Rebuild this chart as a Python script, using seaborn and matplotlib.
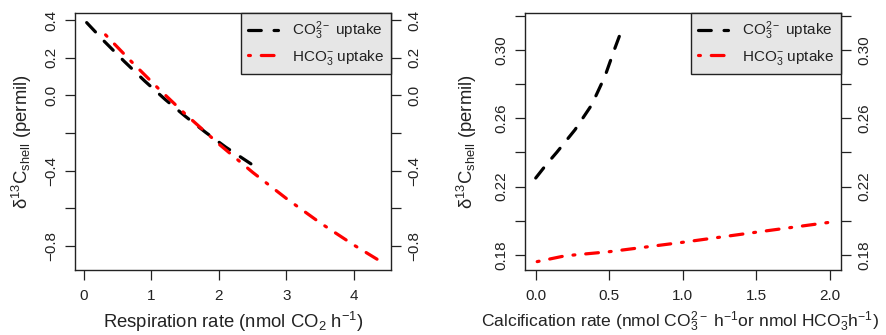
import numpy as np
import pandas as pd
import matplotlib
matplotlib.use("Agg")
import matplotlib.pyplot as plt
import seaborn as sns

# ---- data ----
resp_co3_x = [0.04, 0.3, 0.6, 0.9, 1.2, 1.5, 1.8, 2.1, 2.5]
resp_co3_y = [0.386, 0.287, 0.179, 0.076, -0.021, -0.111, -0.196, -0.275, -0.370]
resp_hco3_x = [0.32, 0.7, 1.1, 1.5, 2.0, 2.5, 3.0, 3.5, 4.0, 4.37]
resp_hco3_y = [0.321, 0.180, 0.037, -0.099, -0.259, -0.409, -0.548, -0.677, -0.795, -0.876]

calc_co3_x = [0.0, 0.075, 0.143, 0.267, 0.381, 0.471, 0.539, 0.578]
calc_co3_y = [0.225, 0.2332, 0.2400, 0.2532, 0.2678, 0.2845, 0.3010, 0.3100]
calc_hco3_x = [0.01, 0.2, 0.5, 1.0, 1.5, 2.0]
calc_hco3_y = [0.1761, 0.1795, 0.1819, 0.1874, 0.1933, 0.1991]

left_xticks = [0, 1, 2, 3, 4]
left_xticklabels = ["0", "1", "2", "3", "4"]
left_yticks = [0.4, 0.2, 0.0, -0.2, -0.4, -0.6, -0.8]
left_yticklabels = ["0.4", "0.2", "0.0", "", "\u22120.4", "", "\u22120.8"]
right_xticks = [0.0, 0.5, 1.0, 1.5, 2.0]
right_xticklabels = ["0.0", "0.5", "1.0", "1.5", "2.0"]
right_yticks = [0.18, 0.20, 0.22, 0.24, 0.26, 0.28, 0.30, 0.32]
right_yticklabels = ["0.18", "", "0.22", "", "0.26", "", "0.30", ""]

series_labels = [r"CO$_3^{2-}$ uptake", r"HCO$_3^{-}$ uptake"]
left_xlabel = r"Respiration rate (nmol CO$_2$ h$^{-1}$)"
right_xlabel = r"Calcification rate (nmol CO$_3^{2-}$ h$^{-1}$or nmol HCO$_3^{-}$h$^{-1}$)"
ylabel = r"$\delta^{13}$C$_{shell}$ (permil)"

# ---- style ----
sns.set_style("white")
plt.rcParams["font.family"] = ["Liberation Sans", "DejaVu Sans"]
plt.rcParams["mathtext.fontset"] = "custom"
plt.rcParams["mathtext.rm"] = "Liberation Sans"
plt.rcParams["mathtext.it"] = "Liberation Sans:italic"
plt.rcParams["mathtext.default"] = "regular"
plt.rcParams["axes.unicode_minus"] = True

LW = 2.3
black_ls = (0, (4, 4))
red_ls = (0, (0.6, 3.4, 4, 3.4))

fig = plt.figure(figsize=(8.87, 3.35), dpi=100)
axL = fig.add_axes([75 / 887, 65 / 335, 316 / 887, 257 / 335])
axR = fig.add_axes([525 / 887, 65 / 335, 316 / 887, 257 / 335])


def draw(ax, x1, y1, x2, y2):
    d1 = pd.DataFrame({"x": x1, "y": y1})
    d2 = pd.DataFrame({"x": x2, "y": y2})
    sns.lineplot(data=d1, x="x", y="y", ax=ax, color="black", linewidth=LW,
                 linestyle=black_ls, dash_capstyle="round", label=series_labels[0],
                 estimator=None)
    sns.lineplot(data=d2, x="x", y="y", ax=ax, color="#FF0000", linewidth=LW,
                 linestyle=red_ls, dash_capstyle="round", label=series_labels[1],
                 estimator=None)


draw(axL, resp_co3_x, resp_co3_y, resp_hco3_x, resp_hco3_y)
draw(axR, calc_co3_x, calc_co3_y, calc_hco3_x, calc_hco3_y)

axL.set_xlim(-0.133, 4.548)
axL.set_ylim(-0.927, 0.437)
axR.set_xlim(-0.073, 2.077)
axR.set_ylim(0.1712, 0.3215)

for ax, xt, xtl, yt, ytl, xl, xlfs, xlx, ylx in [
    (axL, left_xticks, left_xticklabels, left_yticks, left_yticklabels, left_xlabel, 13.3, 0.5, -0.168),
    (axR, right_xticks, right_xticklabels, right_yticks, right_yticklabels, right_xlabel, 12.6, 0.492, -0.185),
]:
    ax.set_xticks(xt)
    ax.set_xticklabels(xtl)
    ax.set_yticks(yt)
    ax.set_yticklabels(ytl)
    ax.tick_params(axis="both", direction="out", length=7, width=0.9, color="#222222",
                   labelsize=11, labelcolor="#222222")
    ax.tick_params(axis="x", pad=7, bottom=True)
    ax.tick_params(axis="y", left=True, right=True, labelleft=True, labelright=True,
                   labelrotation=90, pad=5)
    for lab in ax.get_yticklabels():
        lab.set_va("center")
    for sp in ax.spines.values():
        sp.set_visible(True)
        sp.set_color("#222222")
        sp.set_linewidth(1.0)
    ax.set_xlabel(xl, fontsize=xlfs, color="#222222")
    ax.set_ylabel(ylabel, fontsize=13.3, color="#222222")
    ax.xaxis.set_label_coords(xlx, -0.202)
    ax.xaxis.label.set_va("center")
    ax.yaxis.set_label_coords(ylx, 0.5)
    ax.yaxis.label.set_va("center")
    leg = ax.legend(loc="upper right", borderaxespad=0, fontsize=11,
                    handlelength=2.0, handletextpad=0.9, borderpad=0.45,
                    labelspacing=0.35, fancybox=False, framealpha=1)
    leg.get_frame().set_facecolor("#e6e6e6")
    leg.get_frame().set_edgecolor("#222222")
    leg.get_frame().set_linewidth(1.0)
    for t in leg.get_texts():
        t.set_color("#222222")

fig.savefig("out.png", dpi=100)
